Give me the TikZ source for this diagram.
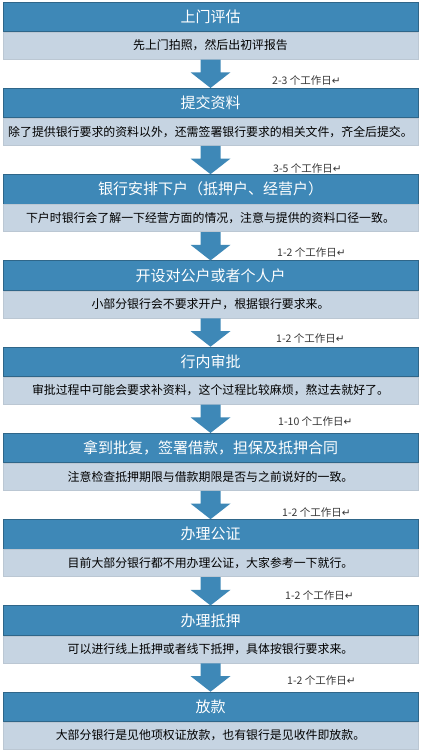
\documentclass[tikz,border=0pt]{standalone}
\usepackage{fontspec}
\setmainfont{Noto Sans CJK SC}
\newfontfamily\symfont{DejaVu Sans}
\definecolor{stepblue}{RGB}{62,136,183}
\definecolor{noteblue}{RGB}{198,212,226}
\definecolor{daygray}{RGB}{55,55,55}

\begin{document}
\begin{tikzpicture}[x=1pt,y=-1pt]
     % Define styles
     \tikzstyle{stephead} = [fill=stepblue, draw=stepblue!75!black, line width=0.6pt, text=white, minimum width=415pt, minimum height=29.5pt, inner sep=0pt, font=\fontsize{15}{15}\selectfont]
     \tikzstyle{stepnote} = [fill=noteblue, draw=noteblue!85!gray, line width=0.5pt, minimum width=415pt, minimum height=27pt, inner sep=0pt, anchor=north, font=\fontsize{11.9}{11.9}\selectfont]
     \tikzstyle{daylabel} = [anchor=west, inner sep=0pt, text=daygray, font=\fontsize{10.5}{10.5}\selectfont]

     \useasboundingbox[fill=white] (0,0) rectangle (421,752);

     % Steps
     \node[stephead] (h1) at (210.5,16.75) {上门评估};
     \node[stepnote] (d1) at (h1.south) {先上门拍照，然后出初评报告};

     \node[stephead] (h2) at (210.5,103) {提交资料};
     \node[stepnote] (d2) at (h2.south) {除了提供银行要求的资料以外，还需签署银行要求的相关文件，齐全后提交。};

     \node[stephead] (h3) at (210.5,189.25) {银行安排下户（抵押户、经营户）};
     \node[stepnote] (d3) at (h3.south) {下户时银行会了解一下经营方面的情况，注意与提供的资料口径一致。};

     \node[stephead] (h4) at (210.5,275.5) {开设对公户或者个人户};
     \node[stepnote] (d4) at (h4.south) {小部分银行会不要求开户，根据银行要求来。};

     \node[stephead] (h5) at (210.5,361.75) {行内审批};
     \node[stepnote] (d5) at (h5.south) {审批过程中可能会要求补资料，这个过程比较麻烦，熬过去就好了。};

     \node[stephead] (h6) at (210.5,448) {拿到批复，签署借款，担保及抵押合同};
     \node[stepnote] (d6) at (h6.south) {注意检查抵押期限与借款期限是否与之前说好的一致。};

     \node[stephead] (h7) at (210.5,534.25) {办理公证};
     \node[stepnote] (d7) at (h7.south) {目前大部分银行都不用办理公证，大家参考一下就行。};

     \node[stephead] (h8) at (210.5,620.5) {办理抵押};
     \node[stepnote] (d8) at (h8.south) {可以进行线上抵押或者线下抵押，具体按银行要求来。};

     \node[stephead] (h9) at (210.5,706.75) {放款};
     \node[stepnote] (d9) at (h9.south) {大部分银行是见他项权证放款，也有银行是见收件即放款。};

     % Block arrows between steps
     \foreach \i/\j in {1/2,2/3,3/4,4/5,5/6,6/7,7/8,8/9} {
          \fill[stepblue] ([shift={(-10,0.3)}]d\i.south) -- ([shift={(-10,13)}]d\i.south)
               -- ([shift={(-20,13)}]d\i.south) -- (h\j.north)
               -- ([shift={(20,13)}]d\i.south) -- ([shift={(10,13)}]d\i.south)
               -- ([shift={(10,0.3)}]d\i.south) -- cycle;
     }

     % Working days
     \node[daylabel] (t1) at (272,80)  {2-3 个工作日{\symfont ↵}};
     \node[daylabel] (t2) at (273,168) {3-5 个工作日{\symfont ↵}};
     \node[daylabel] (t3) at (277,252) {1-2 个工作日{\symfont ↵}};
     \node[daylabel] (t4) at (276,338) {1-2 个工作日{\symfont ↵}};
     \node[daylabel] (t5) at (278,421) {1-10 个工作日{\symfont ↵}};
     \node[daylabel] (t6) at (282,512) {1-2 个工作日{\symfont ↵}};
     \node[daylabel] (t7) at (285,595) {1-2 个工作日{\symfont ↵}};
     \node[daylabel] (t8) at (287,680) {1-2 个工作日{\symfont ↵}};

\end{tikzpicture}
\end{document}
